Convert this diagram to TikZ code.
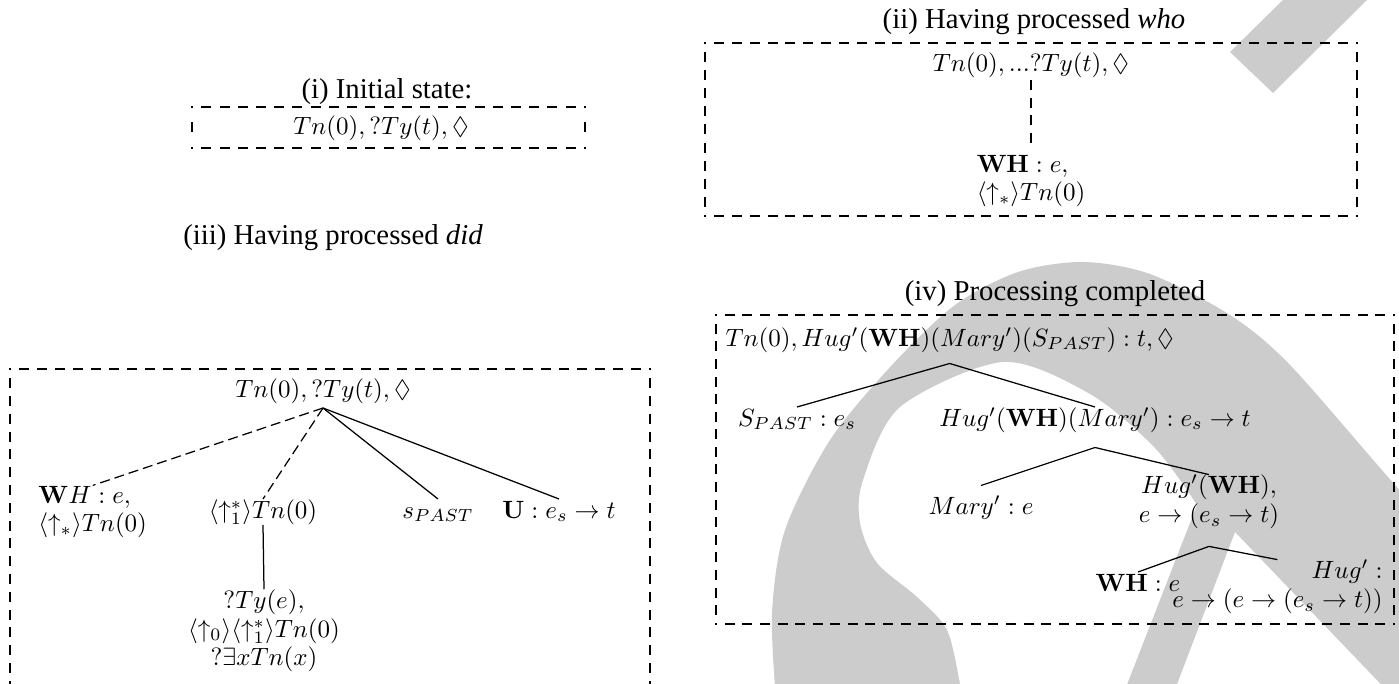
\documentclass[tikz,border=0pt]{standalone}
\usepackage[no-math]{fontspec}
\setmainfont{Liberation Serif}
\usepackage{amssymb}
\usetikzlibrary{decorations}
\definecolor{wm}{RGB}{204,204,204}
\tikzset{
  title/.style={font=\fontsize{11.5}{13}\selectfont, inner sep=0pt},
  lbl/.style={inner sep=0pt, font=\fontsize{10}{11.5}\selectfont},
  one/.style={text height=7.5pt, text depth=2.5pt},
  frame/.style={draw, line width=1pt, line cap=rect, dash pattern=on 3pt off 4pt, dash expand off},
  tdash/.style={line width=0.5pt, dash pattern=on 4pt off 2pt},
  tline/.style={line width=0.5pt},
}
\newcommand\dashframe[4]{%
  \draw[frame] (#1,#2) -- (#3,#2);
  \draw[frame] (#3,#2) -- (#3,#4);
  \draw[frame] (#3,#4) -- (#1,#4);
  \draw[frame] (#1,#4) -- (#1,#2);}
\begin{document}
\begin{tikzpicture}[x=0.4pt, y=-0.4pt]
\useasboundingbox (0,0) rectangle (1399,684);
% watermark
\fill[wm] (1283,0) -- (1367,0) -- (1273,93) -- (1230,52) -- cycle;
\fill[wm] plot[smooth] coordinates {(776,700) (772,613) (785,530) (830,440) (892,365) (955,305) (1018,272) (1083,262) (1150,274) (1230,315) (1290,365) (1395,485) (1585,700)}
  -- (1396,700) -- (1235,532) -- (1171,700) -- (1121,700) -- (1197,505)
  -- plot[smooth] coordinates {(1197,505) (1155,448) (1090,394) (1003,362) (900,407) (863,480) (860,523) (877,563) (917,597) (947,630) (960,684) (962,700)} -- cycle;
% frames
\dashframe{192}{107}{585}{148}
\dashframe{705}{43}{1357}{216}
\dashframe{10}{369}{650}{700}
\dashframe{716}{315}{1394}{624}
% titles
\node[title] (t1) at (387,92) {(i) Initial state:};
\node[title] (t2) at (1034,22) {(ii) Having processed \textit{who}};
\node[title] (t3) at (333,238) {(iii) Having processed \textit{did}};
\node[title] (t4) at (1055,294) {(iv) Processing completed};
% (i)
\node[lbl, one] (a0) at (381,128) {$Tn(0), ?Ty(t), \Diamond$};
% (ii)
\node[lbl, one] (b0) at (1031,65) {$Tn(0), ...?Ty(t), \Diamond$};
\node[lbl, align=left] (b1) at (1031,181) {$\mathbf{WH}: e,$\\ $\langle\uparrow_*\rangle Tn(0)$};
\draw[line width=0.8pt, dash pattern=on 4pt off 3pt] ([yshift=-1pt]b0.south) -- ([yshift=2pt]b1.north);
% (iii)
\node[lbl, one] (c0) at (323,391) {$Tn(0), ?Ty(t), \Diamond$};
\node[lbl, align=left, anchor=west] (c1) at (38,512) {$\mathbf{W}H: e,$\\ $\langle\uparrow_*\rangle Tn(0)$};
\node[lbl, one] (c2) at (263,512) {$\langle\uparrow_1^*\rangle Tn(0)$};
\node[lbl, one] (c3) at (438,512) {$s_{PAST}$};
\node[lbl, one] (c4) at (559,512) {$\mathbf{U}: e_s \to t$};
\node[lbl, align=center] (c5) at (264,631) {$?Ty(e),$\\ $\langle\uparrow_0\rangle\langle\uparrow_1^*\rangle Tn(0)$\\ $?\exists x Tn(x)$};
\draw[tdash] ([yshift=-1.6pt]c0.south) -- (c1.north);
\draw[tdash] ([yshift=-1.6pt]c0.south) -- (c2.north);
\draw[tline] ([yshift=-1.6pt]c0.south) -- (c3.north);
\draw[tline] ([yshift=-1.6pt]c0.south) -- (c4.north);
\draw[tline] (c2.south) -- (c5.north);
% (iv)
\node[lbl, one, anchor=west] (d0) at (725,340) {$Tn(0), Hug'(\mathbf{WH})(Mary')(S_{PAST}): t, \Diamond$};
\node[lbl, one] (d1) at (797,420) {$S_{PAST}: e_s$};
\node[lbl, one] (d2) at (1095,420) {$Hug'(\mathbf{WH})(Mary'): e_s \to t$};
\node[lbl, one] (d3) at (981,508) {$Mary': e$};
\node[lbl, align=center] (d4) at (1209,502) {$Hug'(\mathbf{WH}),$\\ $e \to (e_s \to t)$};
\node[lbl, one] (d5) at (1138,585) {$\mathbf{WH}: e$};
\node[lbl, align=right, anchor=east] (d6) at (1383,587) {$Hug':$\\ $e \to (e \to (e_s \to t))$};
\draw[tline] ([yshift=-4.2pt]d0.south) -- (d1.north);
\draw[tline] ([yshift=-4.2pt]d0.south) -- (d2.north);
\draw[tline] ([yshift=-5.8pt]d2.south) -- ([yshift=3.8pt]d3.north);
\draw[tline] ([yshift=-5.8pt]d2.south) -- (d4.north);
\draw[tline] ([yshift=-6.8pt]d4.south) -- (d5.north);
\draw[tline] ([yshift=-6.8pt]d4.south) -- (d6.north);
\end{tikzpicture}
\end{document}
